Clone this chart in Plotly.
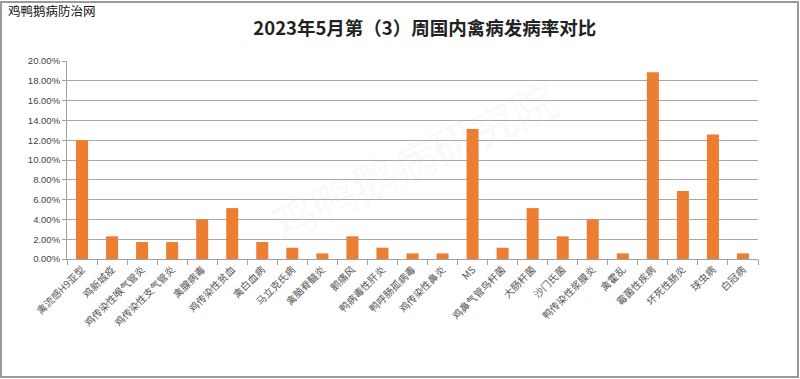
import plotly.graph_objects as go

categories = ["禽流感H9亚型", "鸡新城疫", "鸡传染性喉气管炎", "鸡传染性支气管炎", "禽腺病毒",
              "鸡传染性贫血", "禽白血病", "马立克氏病", "禽脑脊髓炎", "鹅痛风",
              "鸭病毒性肝炎", "鸭呼肠孤病毒", "鸡传染性鼻炎", "MS", "鸡鼻气管鸟杆菌",
              "大肠杆菌", "沙门氏菌", "鸭传染性浆膜炎", "禽霍乱", "霉菌性疾病",
              "坏死性肠炎", "球虫病", "白冠病"]
values = [0.1200, 0.0229, 0.0171, 0.0171, 0.0400,
          0.0514, 0.0171, 0.0114, 0.0057, 0.0229,
          0.0114, 0.0057, 0.0057, 0.1314, 0.0114,
          0.0514, 0.0229, 0.0400, 0.0057, 0.1886,
          0.0686, 0.1257, 0.0057]
ytick_vals = [0, 0.02, 0.04, 0.06, 0.08, 0.10, 0.12, 0.14, 0.16, 0.18, 0.20]
ytick_text = ["0.00%", "2.00%", "4.00%", "6.00%", "8.00%", "10.00%", "12.00%",
              "14.00%", "16.00%", "18.00%", "20.00%"]

fig = go.Figure(go.Bar(x=categories, y=values, marker_color="#ED7D31", width=0.4,
                       marker_line_width=0))

fig.update_layout(
    width=800, height=379,
    margin=dict(l=67, r=42, t=61, b=120),
    paper_bgcolor="white", plot_bgcolor="white",
    showlegend=False,
    font=dict(family="Noto Sans CJK SC", color="#595959"),
    title=dict(text="<b>2023年5月第（3）周国内禽病发病率对比</b>", x=0.531, xanchor="center",
               y=0.925, yanchor="middle",
               font=dict(size=18.5, color="#222222", family="Noto Sans CJK SC")),
)
fig.update_xaxes(type="category", tickangle=-45, tickfont=dict(size=10, color="#555555"),
                 ticks="outside", tickson="boundaries", ticklen=5, tickcolor="#a0a0a0",
                 showline=True, linecolor="#a0a0a0", linewidth=1, showgrid=False)
fig.update_yaxes(range=[0, 0.20], tickvals=ytick_vals, ticktext=ytick_text,
                 tickfont=dict(size=9.5, color="#444444", family="Liberation Sans"),
                 ticks="outside", ticklen=4, tickcolor="#a0a0a0",
                 showgrid=True, gridcolor="#a8a8a8", gridwidth=1,
                 showline=True, linecolor="#a0a0a0", zeroline=False)

fig.add_annotation(text="鸡鸭鹅病防治网", xref="paper", yref="paper", x=(6-67)/691, y=1+(61-11)/198,
                   xanchor="left", yanchor="middle", showarrow=False,
                   font=dict(size=12.5, color="#111111", family="Noto Sans CJK SC"))
fig.add_annotation(text="鸡鸭鹅病研究院", xref="paper", yref="paper", x=0.5, y=0.5,
                   textangle=-25, showarrow=False,
                   font=dict(size=44, color="rgba(200,200,200,0.09)", family="Noto Sans CJK SC"))
fig.add_shape(type="rect", xref="paper", yref="paper",
              x0=-66/691, x1=1+40/691, y0=-118/198, y1=1+59/198,
              line=dict(color="#9a9a9a", width=2), fillcolor="rgba(0,0,0,0)")

fig.write_html("out.html")
